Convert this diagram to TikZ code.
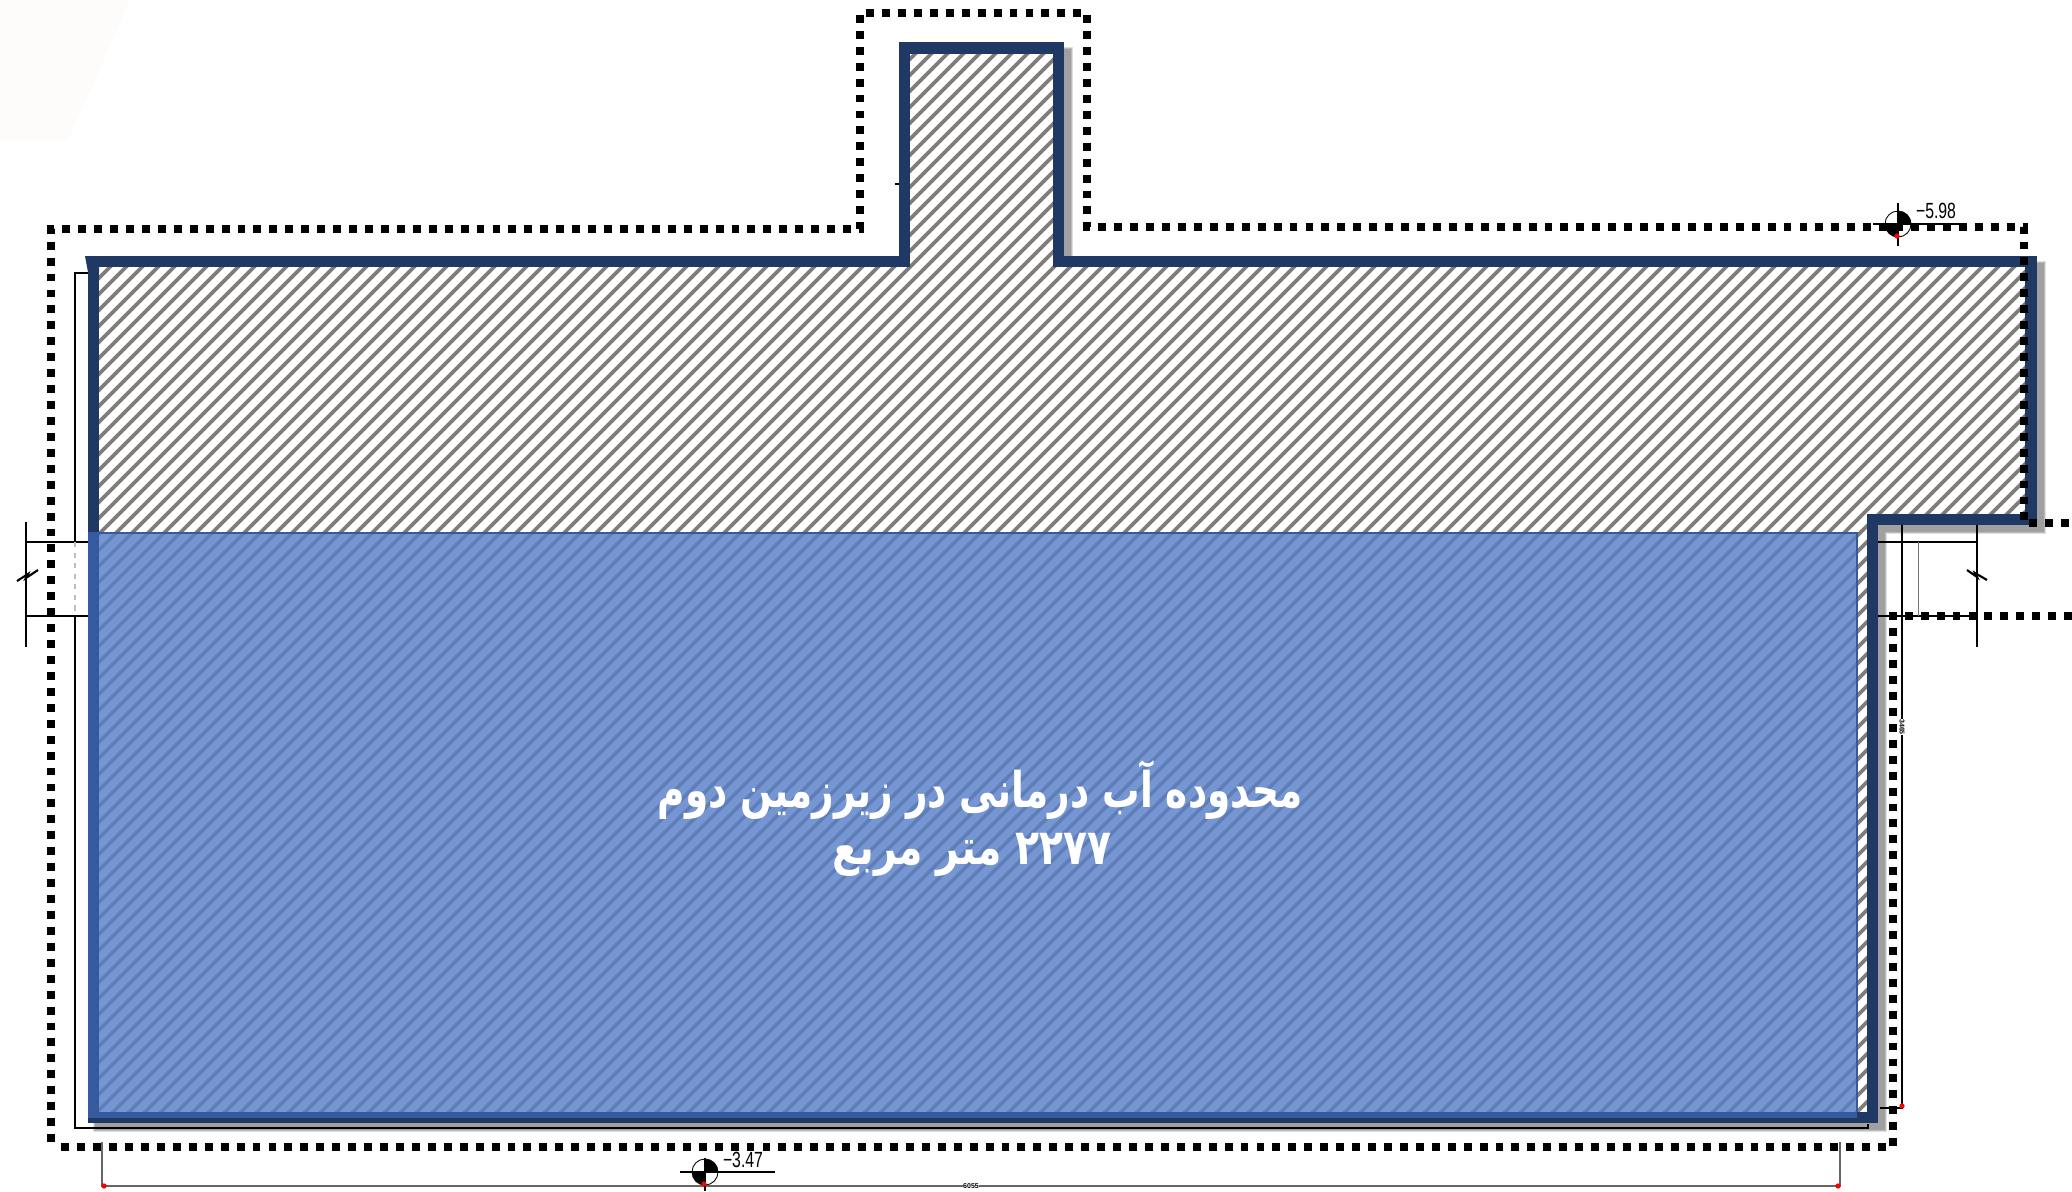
\documentclass[tikz,border=0pt]{standalone}
\usepackage{fontspec}
\TeXXeTstate=1
\newfontfamily\arabicfont[Script=Arabic]{DejaVu Sans}
\setsansfont{Liberation Sans}
\definecolor{wallnavy}{HTML}{1F3864}
\definecolor{wallblue}{HTML}{355A9F}
\definecolor{zonefill}{HTML}{7596D2}
\definecolor{zoneline}{HTML}{5F7DB7}
\definecolor{hatchgray}{HTML}{7F7C7A}
\definecolor{shadowgray}{HTML}{A0A0A0}
\definecolor{pale}{HTML}{FDFCFA}
\tikzset{%
  wall/.style       = {draw=wallnavy, line width=6.6pt, miter limit=10},%
  hatchline/.style  = {draw=hatchgray, line width=2.1pt},%
  zonehatch/.style  = {draw=zoneline, line width=2pt},%
  border/.style     = {draw=black, line width=4.6pt, dash pattern=on 4.5pt off 4.57pt},%
  thin/.style       = {draw=black, line width=.6pt},%
  faint/.style      = {draw=black!55, line width=.5pt},%
  breakmark/.style  = {draw=black, line width=1.2pt},%
  redtip/.style     = {fill=red, draw=none, circle, inner sep=0pt, minimum size=3pt},%
  levelring/.style  = {circle, draw=black, line width=.5pt, inner sep=0pt, minimum size=.52cm},%
  leveltext/.style  = {font=\sffamily\fontsize{12.5}{13}\selectfont, xscale=.72, inner sep=0pt},%
  tinytext/.style   = {font=\sffamily\bfseries\fontsize{4}{4}\selectfont, inner sep=0pt, fill=white},%
  zonetext/.style   = {text=white, inner sep=0pt, font=\arabicfont\bfseries\fontsize{28}{30}\selectfont}%
}
\def\wallpath{(93.5,261.5) -- (904.5,261.5) -- (904.5,48) -- (1058.5,48) -- (1058.5,261.5)
  -- (2031,261.5) -- (2031,519.5) -- (1872.5,519.5) -- (1872.5,1117.5) -- (93.5,1117.5) -- cycle}
\begin{document}
\begin{tikzpicture}[x=.02cm, y=-.02cm]
  \useasboundingbox (0,0) rectangle (2072,1191);
  \fill[pale] (0,0) -- (130,0) -- (68,141) -- (0,141) -- cycle;
  % shadow of the wall
  \begin{scope}[shift={(7,7)}]
    \draw[shadowgray!35, line width=9pt, miter limit=10] \wallpath;
    \draw[shadowgray!70, line width=7.8pt, miter limit=10] \wallpath;
    \draw[shadowgray, line width=6.6pt, miter limit=10] \wallpath;
  \end{scope}
  % plan lines round the wall
  \draw[thin] (88,273) -- (75,273) -- (75,542);
  \draw[thin] (26,522) -- (26,647);
  \draw[thin] (26,542) -- (88,542);
  \draw[thin] (26,616) -- (88,616);
  \draw[black!25, line width=.7pt, dashed] (75,542) -- (75,616);
  \draw[thin, line width=.8pt] (75,616) -- (75,1128) -- (1868,1128) -- (1868,1124);
  \draw[breakmark] (17,581) -- (28,574) -- (26,578) -- (38,570);
  \draw[thin] (1878,542) -- (1977,542);
  \draw[thin] (1878,616) -- (1977,616);
  \draw[thin] (1977,525) -- (1977,647);
  \draw[thin] (1902,525) -- (1902,1108) -- (1880,1108);
  \draw[faint] (1918,542) -- (1918,616);
  \draw[breakmark] (1967,570) -- (1977,577) -- (1975,573) -- (1987,580);
  \draw[thin] (895,184) -- (899,184);
  % hatched floor
  \fill[white] \wallpath;
  \begin{scope}
    \clip \wallpath;
    \foreach \k [evaluate=\k as \c using 105+16*\k] in {0,...,195}
      \draw[hatchline] (\c,0) -- (\c-1200,1200);
  \end{scope}
  % water zone
  \fill[zonefill] (93.5,533) rectangle (1857,1117.5);
  \begin{scope}
    \clip (93.5,533) rectangle (1857,1117.5);
    \foreach \k [evaluate=\k as \c using 105+16*\k] in {0,...,195}
      \draw[zonehatch] (\c,0) -- (\c-1200,1200);
  \end{scope}
  \draw[wall] \wallpath;
  \fill[wallnavy] (85,256) -- (99,256) -- (99,272) -- (88,272) -- cycle;
  \draw[wallblue, line width=.8pt] (88,533) -- (1857,533) -- (1857,1112);
  \fill[wallblue] (88,533) rectangle (99,1118);
  \fill[wallblue] (88,1112) rectangle (1857,1118);
  % text of the zone
  \node[zonetext, xscale=.76] (zonename) at (980,790) {\beginR محدوده آب درمانی در زیرزمین دوم\endR};
  \node[zonetext, xscale=.8] (zonearea) at (972,855) {\beginR\beginL ۲۲۷۷\endL{} متر مربع\endR};
  % dotted limit
  \draw[border] (51,1142) -- (51,229) -- (860,229) -- (860,13) -- (1087,13) -- (1087,227)
    -- (2024,227) -- (2024,523) -- (2072,523);
  \draw[border] (2072,616) -- (1893,616) -- (1893,1147) -- (57,1147);
  % dimension line
  \draw[black!60, line width=.6pt] (102,1142) -- (102,1186) -- (1840,1186) -- (1840,1142);
  \node[redtip] (dimleft) at (104,1186) {};
  \node[redtip] (dimright) at (1838,1186) {};
  \node[redtip] (dimtop) at (1902,1106) {};
  \node[tinytext] (dimwidth) at (971,1186) {6055};
  \node[tinytext, rotate=-90] (dimheight) at (1902,727) {3465};
  % level marks
  \node[levelring] (levelupper) at (1898,224) {};
  \fill (levelupper.center) -- ++(.26cm,0) arc[start angle=0, end angle=90, radius=.26cm] -- cycle;
  \fill (levelupper.center) -- ++(-.26cm,0) arc[start angle=180, end angle=270, radius=.26cm] -- cycle;
  \draw[thin] (1873,224) -- (1967,224);
  \draw[thin] (1898,203) -- (1898,246);
  \node[redtip] (levelupperdot) at (1897,236) {};
  \node[leveltext] (levelupperval) at (1936,211) {−5.98};
  \node[levelring] (levellower) at (705,1172) {};
  \fill (levellower.center) -- ++(.26cm,0) arc[start angle=0, end angle=90, radius=.26cm] -- cycle;
  \fill (levellower.center) -- ++(-.26cm,0) arc[start angle=180, end angle=270, radius=.26cm] -- cycle;
  \draw[thin] (680,1172) -- (775,1172);
  \draw[thin] (705,1158) -- (705,1191);
  \node[redtip] (levellowerdot) at (704,1184) {};
  \node[leveltext] (levellowerval) at (743,1160) {−3.47};
\end{tikzpicture}
\end{document}
